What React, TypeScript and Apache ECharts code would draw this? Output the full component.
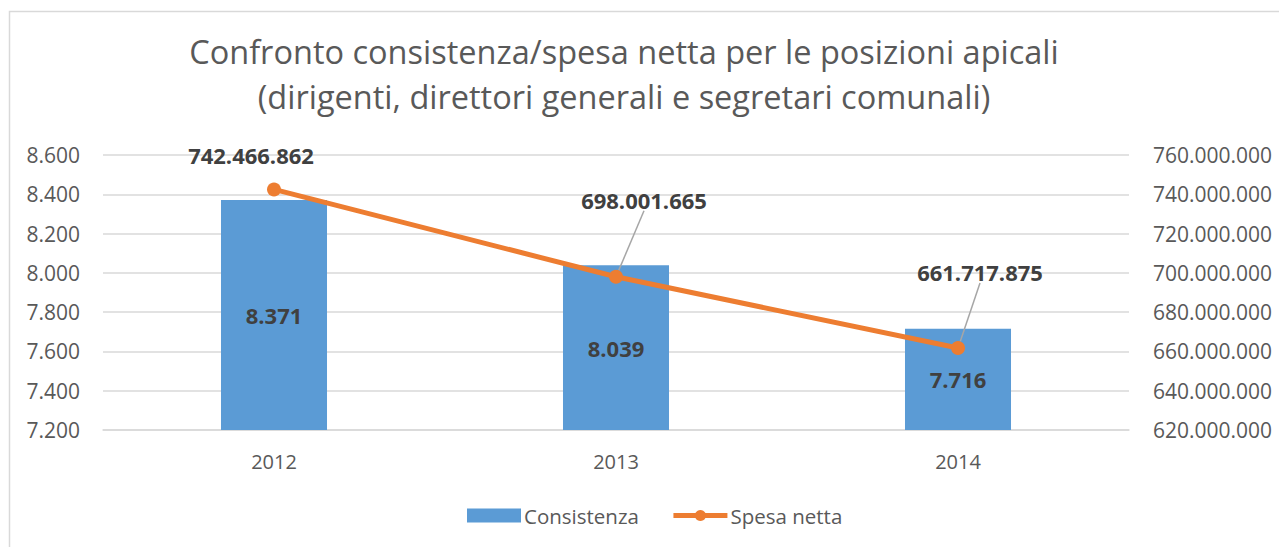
import React, { useEffect, useRef } from "react";
import * as echarts from "echarts";

const titleLines = [
  "Confronto consistenza/spesa netta per le posizioni apicali",
  "(dirigenti, direttori generali e segretari comunali)",
];
const years = ["2012", "2013", "2014"];
const consistenza = [8371, 8039, 7716];
const spesaNetta = [742466862, 698001665, 661717875];
const labelShift = [
  [-23, -11],
  [28, -54],
  [22, -53],
];

const FONT = "'Open Sans', 'Noto Sans', sans-serif";
const fmt = (v: number) => String(Math.round(v)).replace(/\B(?=(\d{3})+(?!\d))/g, ".");

export default function App() {
  const ref = useRef<HTMLDivElement>(null);
  useEffect(() => {
    if (!ref.current) return;
    const chart = echarts.init(ref.current, null, { renderer: "svg" });
    chart.setOption({
      animation: false,
      backgroundColor: "#ffffff",
      textStyle: { fontFamily: FONT },
      title: {
        text: titleLines.join("\n"),
        left: 619,
        textAlign: "center",
        top: 24,
        textStyle: { fontFamily: FONT, fontSize: 32.5, fontWeight: "normal", color: "#595959", lineHeight: 45 },
      },
      graphic: [
        {
          type: "rect",
          shape: { x: 9.5, y: 11.5, width: 1400, height: 700 },
          style: { fill: "none", stroke: "#d9d9d9", lineWidth: 1.5 },
          silent: true,
          z: -10,
        },
      ],
      legend: {
        bottom: 16,
        left: 462,
        itemGap: 32,
        itemWidth: 54,
        itemHeight: 14,
        textStyle: { fontFamily: FONT, fontSize: 20.5, color: "#595959", padding: [0, 0, 0, -2] },
        data: [
          { name: "Consistenza", icon: "rect" },
          { name: "Spesa netta", lineStyle: { width: 5 } },
        ],
      },
      grid: { left: 103, right: 150, top: 155, bottom: 117 },
      xAxis: {
        type: "category",
        data: years,
        axisLine: { show: true, lineStyle: { color: "#d9d9d9", width: 1.5 } },
        axisTick: { show: false },
        axisLabel: { color: "#595959", fontSize: 20, margin: 21, fontFamily: FONT },
      },
      yAxis: [
        {
          type: "value",
          min: 7200,
          max: 8600,
          interval: 200,
          axisLine: { show: false },
          axisTick: { show: false },
          splitLine: { lineStyle: { color: "#d9d9d9", width: 1.5 } },
          axisLabel: { color: "#595959", fontSize: 21, margin: 23, formatter: fmt, fontFamily: FONT },
        },
        {
          type: "value",
          min: 620000000,
          max: 760000000,
          interval: 20000000,
          axisLine: { show: false },
          axisTick: { show: false },
          splitLine: { show: false },
          axisLabel: { color: "#595959", fontSize: 21, margin: 24, formatter: fmt, fontFamily: FONT },
        },
      ],
      series: [
        {
          name: "Consistenza",
          type: "bar",
          yAxisIndex: 0,
          data: consistenza,
          barWidth: "31%",
          itemStyle: { color: "#5b9bd5" },
          label: {
            show: true,
            position: "inside",
            formatter: (p: any) => fmt(p.value),
            color: "#404040",
            fontWeight: "bold",
            fontSize: 22,
            fontFamily: FONT,
          },
        },
        {
          name: "Spesa netta",
          type: "line",
          yAxisIndex: 1,
          data: spesaNetta.map((v, i) => ({
            value: v,
            labelLine: { show: i > 0 },
          })),
          symbol: "circle",
          symbolSize: 14,
          itemStyle: { color: "#ed7d31" },
          lineStyle: { color: "#ed7d31", width: 5 },
          label: {
            show: true,
            position: "top",
            distance: 5,
            formatter: (p: any) => fmt(p.value),
            color: "#404040",
            fontWeight: "bold",
            fontSize: 22,
            fontFamily: FONT,
          },
          labelLine: { show: true, lineStyle: { color: "#a6a6a6", width: 1.5 } },
          labelLayout: (p: any) => ({ dx: labelShift[p.dataIndex][0], dy: labelShift[p.dataIndex][1] }),
          z: 5,
        },
      ],
    });
    return () => chart.dispose();
  }, []);
  return (
    <div
      ref={ref}
      style={{ position: "absolute", left: 0, top: 0, width: 1279, height: 547 }}
    />
  );
}
